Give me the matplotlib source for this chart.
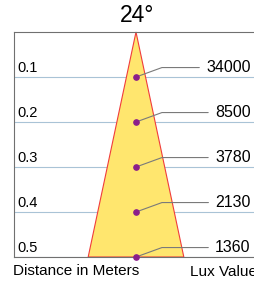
import numpy as np
import matplotlib
matplotlib.use('Agg')
import matplotlib.pyplot as plt

plt.rcParams['font.family'] = ['Liberation Sans', 'DejaVu Sans']

beam_angle = 24
distances = [0.1, 0.2, 0.3, 0.4, 0.5]
dist_labels = ['0.1', '0.2', '0.3', '0.4', '0.5']
lux_labels = ['34000', '8500', '3780', '2130', '1360']

W, H = 255, 282
fig = plt.figure(figsize=(W / 100, H / 100), dpi=100)
ax = fig.add_axes([14 / W, (H - 257) / H, (W - 14) / W, 225 / H])

dmax = 0.5
ax.set_ylim(dmax, 0)
ax.set_xlim(-122 / 450, (W - 136) / 450)

# beam cone
half = np.tan(np.radians(beam_angle / 2)) * dmax
ax.fill([0, -half, half], [0, dmax, dmax], facecolor='#ffe66e',
        edgecolor='#f03c3c', lw=0.8, zorder=2, clip_on=False)

for d, dl, lx in zip(distances, dist_labels, lux_labels):
    ax.axhline(d, color='#a9c3d6', lw=0.8, zorder=1)
    ax.plot(0, d, 'o', color='#8b1e8b', ms=3.8, zorder=4, clip_on=False)
    ax.text(-0.264, d - 0.02, dl, fontsize=10.5, va='center', ha='left')
    ax.annotate(lx, xy=(0, d), xytext=(0.255, d - 0.021),
                fontsize=11.5, ha='right', va='center',
                arrowprops=dict(arrowstyle='-', color='#7a7a7a', lw=0.8,
                                shrinkA=3, shrinkB=0,
                                connectionstyle='angle,angleA=0,angleB=20,rad=0'),
                zorder=3, annotation_clip=False)

ax.set_xticks([])
ax.set_yticks([])
ax.spines['right'].set_visible(False)
for s in ['left', 'top', 'bottom']:
    ax.spines[s].set_color('#707070')
    ax.spines[s].set_linewidth(0.8)

fig.text(137 / W, 1 - 16 / H, f'{beam_angle}°', fontsize=16.5, ha='center', va='center')
fig.text(13 / W, 1 - 271 / H, 'Distance in Meters', fontsize=11, ha='left', va='center')
fig.text(190 / W, 1 - 272 / H, 'Lux Value', fontsize=11, ha='left', va='center')

fig.savefig('out.png', dpi=100)
